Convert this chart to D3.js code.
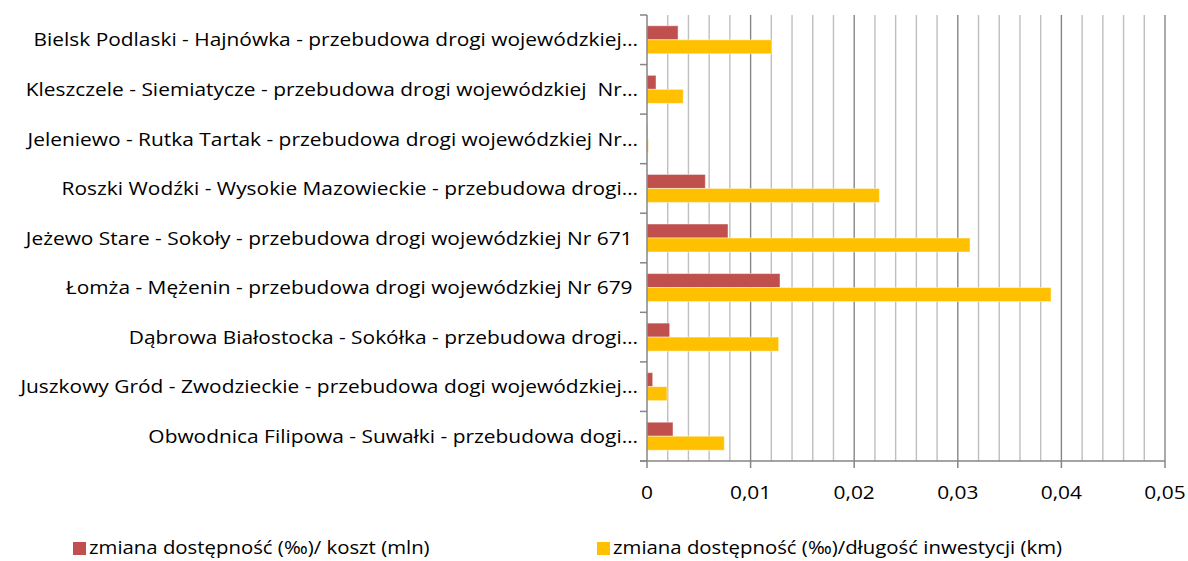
<!DOCTYPE html>
<html>
<head>
<meta charset="utf-8">
<script src="https://cdn.jsdelivr.net/npm/d3@7"></script>
<style>
  html, body { margin: 0; padding: 0; background: #fff; }
  svg text { font-family: "Open Sans", "Noto Sans", sans-serif; fill: #000; white-space: pre; }
</style>
</head>
<body>
<svg id="chart" width="1188" height="561"></svg>
<script>
// Road investments, listed top to bottom as drawn
const categories = [
  "Bielsk Podlaski - Hajnówka - przebudowa drogi wojewódzkiej…",
  "Kleszczele - Siemiatycze - przebudowa drogi wojewódzkiej  Nr…",
  "Jeleniewo - Rutka Tartak - przebudowa drogi wojewódzkiej Nr…",
  "Roszki Wodźki - Wysokie Mazowieckie - przebudowa drogi…",
  "Jeżewo Stare - Sokoły - przebudowa drogi wojewódzkiej Nr 671 ",
  "Łomża - Mężenin - przebudowa drogi wojewódzkiej Nr 679 ",
  "Dąbrowa Białostocka - Sokółka - przebudowa drogi…",
  "Juszkowy Gród - Zwodzieckie - przebudowa dogi wojewódzkiej…",
  "Obwodnica Filipowa - Suwałki - przebudowa dogi…"
];

// change in accessibility (‰) per cost (mln)
const perCost = [0.0030, 0.00087, 0.00003, 0.00563, 0.00782, 0.01284, 0.00219, 0.00055, 0.00251];
// change in accessibility (‰) per investment length (km)
const perLength = [0.01204, 0.0035, 0.00013, 0.02243, 0.03118, 0.0390, 0.01271, 0.00193, 0.00746];

const seriesNames = ["zmiana dostępność (‰)/ koszt (mln)", "zmiana dostępność (‰)/długość inwestycji (km)"];
const seriesColors = ["#C0504D", "#FFC000"];

const xTicks = [0, 0.01, 0.02, 0.03, 0.04, 0.05];
const xTickLabels = ["0", "0,01", "0,02", "0,03", "0,04", "0,05"];
const minorStep = 0.002;

const svg = d3.select("#chart");
const plot = { left: 647, right: 1165, top: 15, bottom: 461 };
const fontSize = 19;
const legendFontSize = 18.5;
// horizontal scaling of the glyphs to get the wide label face
const stretch = 1.1;

const x = d3.scaleLinear().domain([0, 0.05]).range([plot.left, plot.right]);
const y = d3.scaleBand().domain(categories).range([plot.top, plot.bottom]);
const barH = 14;

function widen(sel) {
  sel.each(function () {
    const w = this.getComputedTextLength();
    d3.select(this).attr("textLength", w * stretch).attr("lengthAdjust", "spacingAndGlyphs");
  });
}

// gridlines: minor every 0.002, major at labelled ticks
const minorTicks = d3.range(0, 0.05 + 1e-9, minorStep).filter(v => !xTicks.some(t => Math.abs(t - v) < 1e-9));
svg.append("g").selectAll("line").data(minorTicks).join("line")
  .attr("x1", d => x(d)).attr("x2", d => x(d))
  .attr("y1", plot.top).attr("y2", plot.bottom)
  .attr("stroke", "#BFBFBF").attr("stroke-width", 1.4);
svg.append("g").selectAll("line").data(xTicks.slice(1)).join("line")
  .attr("x1", d => x(d)).attr("x2", d => x(d))
  .attr("y1", plot.top).attr("y2", plot.bottom)
  .attr("stroke", "#868686").attr("stroke-width", 1.4);

// bars
const series = [perCost, perLength];
series.forEach((vals, si) => {
  svg.append("g").selectAll("rect").data(vals).join("rect")
    .attr("x", x(0))
    .attr("y", (d, i) => y(categories[i]) + y.bandwidth() / 2 - barH + si * barH)
    .attr("width", d => x(d) - x(0))
    .attr("height", barH)
    .attr("fill", seriesColors[si])
    .attr("stroke", "#ffffff").attr("stroke-opacity", 0.45).attr("stroke-width", 1);
});

// category axis (left)
const yAxis = svg.append("g");
yAxis.append("line")
  .attr("x1", plot.left).attr("x2", plot.left)
  .attr("y1", plot.top).attr("y2", plot.bottom)
  .attr("stroke", "#868686").attr("stroke-width", 1.5);
const boundaries = categories.map(c => y(c)).concat([plot.bottom]);
yAxis.selectAll("line.tick").data(boundaries).join("line").attr("class", "tick")
  .attr("x1", plot.left - 7).attr("x2", plot.left)
  .attr("y1", d => d).attr("y2", d => d)
  .attr("stroke", "#868686").attr("stroke-width", 1.5);
yAxis.selectAll("text").data(categories).join("text")
  .attr("x", 638)
  .attr("y", d => y(d) + y.bandwidth() / 2)
  .attr("dy", "0.35em")
  .attr("text-anchor", "end")
  .style("font-size", fontSize + "px")
  .text(d => d)
  .call(widen);

// value axis (bottom)
const xAxis = svg.append("g");
xAxis.append("line")
  .attr("x1", plot.left - 7).attr("x2", plot.right)
  .attr("y1", plot.bottom).attr("y2", plot.bottom)
  .attr("stroke", "#868686").attr("stroke-width", 1.5);
xAxis.selectAll("line.tick").data(xTicks).join("line").attr("class", "tick")
  .attr("x1", d => x(d)).attr("x2", d => x(d))
  .attr("y1", plot.bottom).attr("y2", plot.bottom + 7)
  .attr("stroke", "#868686").attr("stroke-width", 1.5);
xAxis.selectAll("text").data(xTicks).join("text")
  .attr("x", d => x(d))
  .attr("y", 492)
  .attr("dy", "0.35em")
  .attr("text-anchor", "middle")
  .style("font-size", fontSize + "px")
  .text((d, i) => xTickLabels[i])
  .call(widen);

// legend
const legendX = [73, 597];
const legend = svg.append("g");
seriesNames.forEach((name, i) => {
  legend.append("rect")
    .attr("x", legendX[i]).attr("y", 542)
    .attr("width", 13).attr("height", 13)
    .attr("fill", seriesColors[i]);
  legend.append("text")
    .attr("x", legendX[i] + 16).attr("y", 548)
    .attr("dy", "0.35em")
    .style("font-size", legendFontSize + "px")
    .text(name)
    .call(widen);
});
</script>
</body>
</html>
